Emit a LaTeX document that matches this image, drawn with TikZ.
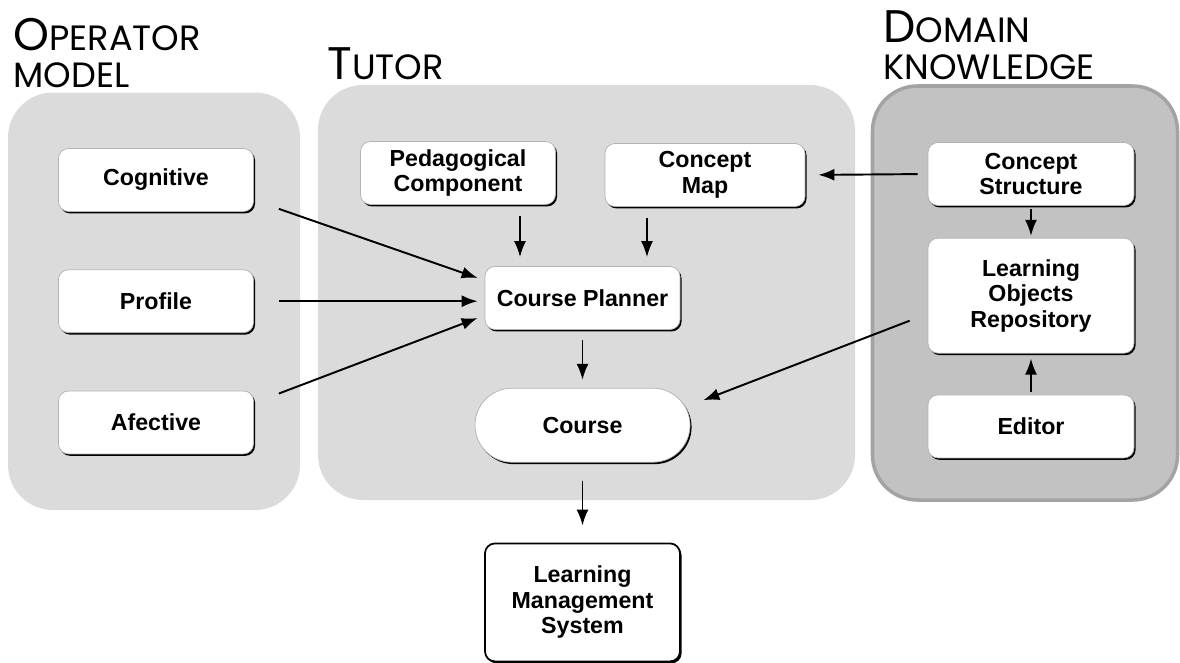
\documentclass[tikz,border=0pt]{standalone}
\usepackage{fontspec}
\setmainfont{Liberation Sans}
\newfontfamily\titlefont{Poppins}
\usetikzlibrary{positioning,shadows,arrows.meta}

\newcommand\headword[2]{{\fontsize{26}{21}\selectfont #1}{\fontsize{20}{21}\selectfont #2}}

\tikzset{
  panel/.style={fill=black!14,rounded corners=0.9cm},
  part/.style={
    rectangle,
    rounded corners=0.2cm,
    fill=white,
    draw=black!30,
    thin,
    drop shadow={shadow xshift=0.9pt,shadow yshift=-1.1pt,fill=black,opacity=1},
    minimum width=3.9cm,
    minimum height=1.26cm,
    align=center,
    font=\fontsize{13.2}{14.5}\selectfont\bfseries
  },
  title/.style={font=\titlefont\fontsize{20}{21}\selectfont,align=left,inner sep=0pt,anchor=north west},
  link/.style={-{Latex[length=3.2mm,width=2.4mm]},line width=1.1pt}
}

\begin{document}
\begin{tikzpicture}
\useasboundingbox (0,0) rectangle (23.6,-13.24);

% the three groups
\fill[panel] (0.16,-1.85) rectangle (6.0,-10.2);
\fill[panel] (6.36,-1.7) rectangle (17.1,-10.0);
\filldraw[panel,fill=black!24,draw=black!36,line width=2pt] (17.45,-1.72) rectangle (23.55,-10.0);

\node[title] (opm) at (0.26,-0.36) {\headword{O}{PERATOR}\\\headword{}{MODEL}};
\node[title] (tut) at (6.54,-0.94) {\headword{T}{UTOR}};
\node[title] (dom) at (17.66,-0.2) {\headword{D}{OMAIN}\\\headword{}{KNOWLEDGE}};

% operator model
\node[part] (cog) at (3.12,-3.6) {Cognitive};
\node[part,below=1.15cm of cog] (prof) {Profile};
\node[part,below=1.15cm of prof] (afe) {Afective};

% tutor
\node[part] (ped) at (9.16,-3.46) {Pedagogical\\Component};
\node[part,minimum width=4cm] (cmap) at (14.1,-3.5) {Concept\\Map};
\node[part] (cp) at (11.65,-5.96) {Course Planner};
\node[part,rounded corners=0.74cm,minimum width=4.3cm,minimum height=1.48cm,
      below=1.16cm of cp] (course) {Course};
\node[part,draw=black,line width=1pt,minimum height=2.36cm,below=1.6cm of course] (lms)
      {Learning\\Management\\System};

% domain knowledge
\node[part,minimum width=4.12cm] (cs) at (20.62,-3.48) {Concept\\Structure};
\node[part,minimum width=4.12cm,minimum height=2.3cm,below=0.64cm of cs] (lor)
      {Learning\\Objects\\Repository};
\node[part,minimum width=4.12cm,below=0.82cm of lor] (ed) {Editor};

% connectors
\draw[link] ([xshift=0.5cm,yshift=0.06cm]cog.south east) -- ([xshift=-0.14cm,yshift=0.4cm]cp.west);
\draw[link,shorten <=0.5cm,shorten >=0.14cm] (prof.east) -- (prof.east -| cp.west);
\draw[link] ([xshift=0.5cm,yshift=-0.06cm]afe.north east) -- ([xshift=-0.14cm,yshift=-0.4cm]cp.west);
\draw[link,shorten <=0.22cm,shorten >=0.18cm] ([xshift=1.24cm]ped.south) -- ([xshift=1.24cm]ped.south |- cp.north);
\draw[link,shorten <=0.22cm,shorten >=0.18cm] ([xshift=-1.16cm]cmap.south) -- ([xshift=-1.16cm]cmap.south |- cp.north);
\draw[link,shorten <=0.2cm,shorten >=0.26cm] (cs.west) -- (cmap.east);
\draw[link] ([xshift=-0.36cm,yshift=-0.5cm]lor.west) -- ([xshift=0.26cm,yshift=0.5cm]course.east);
\draw[link,shorten <=0.2cm,shorten >=0.16cm] (cp) -- (course);
\draw[link,shorten <=0.36cm,shorten >=0.34cm] (course) -- (lms);
\draw[link,shorten <=0.06cm,shorten >=0.04cm] (cs) -- (lor);
\draw[link,shorten <=0.06cm,shorten >=0.1cm] (ed) -- (lor);
\end{tikzpicture}
\end{document}
